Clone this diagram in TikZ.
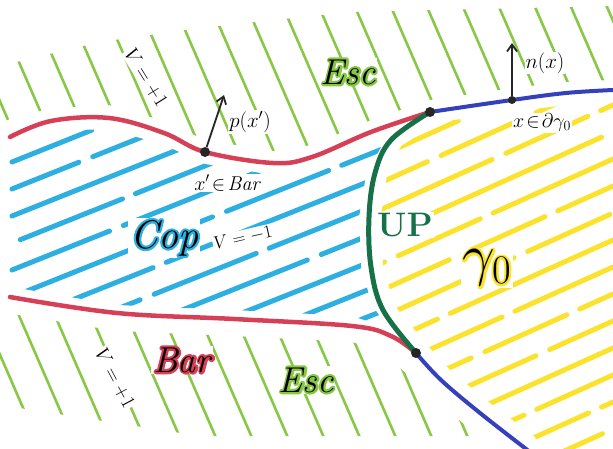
\RequirePackage{fix-cm}
\documentclass[tikz,border=0pt]{standalone}
\usepackage{xcolor}
\usepackage{amsmath,amssymb}
\usepackage{tikz}
\usetikzlibrary{arrows.meta,calc}

\definecolor{escgreen}{RGB}{136,200,70}
\definecolor{copblue}{RGB}{45,175,225}
\definecolor{gamyellow}{RGB}{250,226,45}
\definecolor{barred}{RGB}{214,64,86}
\definecolor{upgreen}{RGB}{22,112,72}
\definecolor{bdblue}{RGB}{52,64,188}

% marker rim round a word: stroked copy under the black one
\newcommand{\halotxt}[2]{%
  \leavevmode
  \rlap{\special{pdf:literal direct 1 Tr 4.4 w 1 J 1 j #1 RG}#2%
        \special{pdf:literal direct 0 Tr}}%
  #2}

\begin{document}
\begin{tikzpicture}[x=1pt, y=-1pt,
  hatchG/.style={escgreen, line width=2.6pt, line cap=round},
  hatchB/.style={copblue, line width=5pt, line cap=round,
                 dash pattern=on 230pt off 15pt on 110pt off 14pt},
  hatchY/.style={gamyellow, line width=5pt, line cap=round,
                 dash pattern=on 190pt off 15pt on 90pt off 14pt},
  curve/.style={line width=4.5pt, line cap=round, line join=round},
  blob/.style={circle, fill=black!85, inner sep=0pt, minimum size=10pt},
  vec/.style={-{Straight Barb[length=7pt,width=10pt]}, line width=1.8pt, black!85},
  lbl/.style={font=\fontsize{20}{20}\selectfont, inner sep=1pt, fill=white},
  big/.style={font=\fontsize{36}{36}\selectfont\itshape, inner sep=2pt, fill=white}
]
\useasboundingbox (0,0) rectangle (613,449);

% ===== Esc (green hatching) =====
\begin{scope}
  \clip (0,66) -- (100,42) -- (200,28) -- (350,12) -- (613,6) -- (613,80)
    -- (566,82) -- (512,88) -- (430,100) -- (371,120) -- (312,145) -- (273,151)
    -- (205,140) -- (164,121) -- (109,105) -- (51,108) -- (0,122) -- cycle;
  \foreach \a in {-260,-224,...,620}
    \draw[hatchG] (\a,0) -- ++(191,440);
\end{scope}
\begin{scope}
  \clip (0,312) -- (117,331) -- (234,336) -- (352,342) -- (385,352) -- (400,368)
    -- (428,394) -- (465,425) -- (470,436) -- (200,436) -- (0,405) -- cycle;
  \foreach \a in {-262,-226,...,620}
    \draw[hatchG] (\a,0) -- ++(191,440);
\end{scope}

% ===== Cop (blue hatching) =====
\begin{scope}
  \clip (0,148) -- (51,131) -- (109,129) -- (164,145) -- (205,164) -- (273,175)
    -- (312,169) -- (365,148) -- (382,145) -- (366,175) -- (359,217) -- (361,267)
    -- (372,305) -- (388,328) -- (352,316) -- (234,310) -- (117,305) -- (0,285) -- cycle;
  \foreach \c [evaluate=\c as \ph using {mod(\c*7,300)}] in {140,167,...,470}
    \draw[hatchB, dash phase=\ph pt] (12,\c-5) -- (395,\c-158);
\end{scope}

% ===== gamma_0 (yellow hatching) =====
\begin{scope}
  \clip (440,122) -- (512,112) -- (566,105) -- (613,102) -- (613,449) -- (540,449)
    -- (535,437) -- (490,403) -- (452,372) -- (428,346) -- (395,306) -- (383,267)
    -- (381,217) -- (387,175) -- (401,146) -- cycle;
  \foreach \c [evaluate=\c as \ph using {mod(\c*7,260)}] in {300,327,...,760}
    \draw[hatchY, dash phase=\ph pt] (380,\c-171) -- (613,\c-276);
\end{scope}

% ===== labels =====
\node[big] (esctop) at (348,72) {\halotxt{0.53 0.78 0.27}{Esc}};
\node[big] (escbot) at (306,380) {\halotxt{0.53 0.78 0.27}{Esc}};
\node[big, font=\fontsize{40}{40}\selectfont\itshape] (cop) at (164,238) {\halotxt{0.18 0.69 0.88}{Cop}};
\node[big] (bar) at (182,360) {\halotxt{0.84 0.25 0.34}{Bar}};
\node[inner sep=1pt, fill=white, text=upgreen, font=\fontsize{34}{34}\selectfont\bfseries]
  (up) at (405,225) {UP};
\node[inner sep=2pt, fill=white, font=\fontsize{58}{58}\selectfont]
  (gam) at (487,268) {\halotxt{0.98 0.89 0.18}{$\gamma_0$}};
\node[lbl, rotate=-58] (vtop) at (146,78) {$V = +1$};
\node[lbl, rotate=-62] (vbot) at (115,378) {$V = +1$};
\node[lbl, rotate=13, font=\fontsize{18}{18}\selectfont] (vcop) at (243,238) {$V = -1$};
\node[lbl, font=\fontsize{21}{21}\selectfont] (plbl) at (250,122) {$p(x')$};
\node[lbl, font=\fontsize{21}{21}\selectfont] (nlbl) at (545,63) {$n(x)$};
\node[lbl] (xbar) at (228,183) {$x'\!\in\!\mathit{Bar}$};
\node[lbl] (xgam) at (542,123) {$x\!\in\!\partial\gamma_0$};

% ===== boundaries =====
\coordinate (jtop) at (430,112);
\coordinate (jbot) at (416,353);
\coordinate (xq) at (205,152);
\coordinate (xn) at (512,100);
\coordinate (ptip) at (224,95);
\coordinate (ntip) at (512,43);

\draw[curve, barred] plot[smooth, tension=0.6] coordinates
  {(10,137) (51,121) (109,118) (164,133) (205,152) (273,163) (312,157) (371,132) (430,112)};
\draw[curve, barred] plot[smooth, tension=0.6] coordinates
  {(10,297) (117,313) (234,319) (352,326) (391,336) (416,353)};
\draw[curve, bdblue, line width=4pt] plot[smooth, tension=0.6] coordinates
  {(430,112) (512,100) (566,93) (613,90)};
\draw[curve, bdblue, line width=4pt] plot[smooth, tension=0.6] coordinates
  {(416,353) (441,380) (480,413) (530,452)};
\draw[curve, upgreen, line width=5pt] plot[smooth, tension=0.6] coordinates
  {(430,112) (391,140) (375,173) (369,217) (371,267) (383,310) (416,353)};

% ===== points and vectors =====
\node[blob] (djtop) at (jtop) {};
\node[blob] (djbot) at (jbot) {};
\node[blob] (dxq) at (xq) {};
\node[blob, minimum size=8pt] (dxn) at (xn) {};
\draw[vec] (dxq) -- (ptip);
\draw[vec] (dxn) -- (ntip);

\end{tikzpicture}
\end{document}
